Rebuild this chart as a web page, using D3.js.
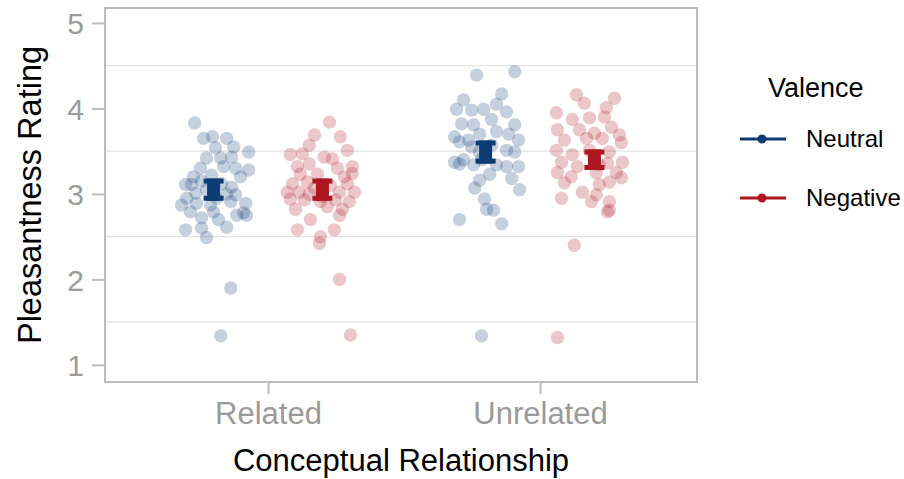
<!DOCTYPE html>
<html>
<head>
<meta charset="utf-8">
<script src="https://cdn.jsdelivr.net/npm/d3@7"></script>
<style>
  body { margin: 0; background: #fff; }
  svg { font-family: "Liberation Sans", Arial, sans-serif; }
</style>
</head>
<body>
<div id="chart"></div>
<script>
// categories and groups
const categories = ["Related", "Unrelated"];
const valences = ["Neutral", "Negative"];
const yTicks = [1, 2, 3, 4, 5];
const gridLevels = [1.5, 2.5, 3.5, 4.5];

// group means and standard errors (Related, Unrelated)
const meanNeutral = [3.05, 3.49];
const meanNegative = [3.05, 3.40];
const seNeutral = [0.13, 0.135];
const seNegative = [0.13, 0.12];

// individual ratings, with jitter offsets (category units)
const relatedNeutral = [3.83, 3.65, 3.67, 3.65, 3.54, 3.55, 3.49, 3.42, 3.42, 3.43, 3.30, 3.32, 3.30, 3.28,
  3.20, 3.22, 3.20, 3.11, 3.11, 3.08, 3.01, 2.99, 2.95, 2.89, 2.91, 2.87, 2.87, 2.89, 2.79, 2.79, 2.78,
  2.72, 2.75, 2.75, 2.70, 2.58, 2.60, 2.61, 2.49, 1.90, 1.34, 3.05, 3.12, 2.95, 3.15, 3.00];
const relatedNeutralJit = [-0.070, -0.037, -0.004, 0.048, 0.007, 0.074, 0.129, -0.026, 0.026, 0.066, -0.048, 0.037, 0.081, 0.129,
  -0.074, -0.007, 0.099, -0.103, -0.081, 0.066, -0.066, 0.081, -0.099, -0.063, 0.063, -0.118, -0.011, 0.118, -0.085, 0, 0.110,
  -0.044, 0.085, 0.121, 0.018, -0.103, -0.044, 0.048, -0.026, 0.063, 0.026, -0.026, 0.029, 0.011, -0.044, 0.048];

const relatedNegative = [3.84, 3.69, 3.67, 3.57, 3.51, 3.46, 3.47, 3.43, 3.41, 3.35, 3.32, 3.32, 3.30, 3.24,
  3.23, 3.23, 3.20, 3.12, 3.14, 3.12, 3.02, 3.02, 3.00, 3.02, 3.02, 2.94, 2.93, 2.91, 2.93, 2.91, 2.82,
  2.85, 2.82, 2.70, 2.75, 2.58, 2.50, 2.58, 2.42, 2.00, 1.35, 3.07, 3.10, 2.97];
const relatedNegativeJit = [0.026, -0.029, 0.066, -0.048, 0.092, -0.118, -0.074, 0.007, 0.037, -0.048, 0.110, -0.092, 0.055, 0.110,
  -0.081, -0.018, 0.081, -0.110, -0.055, 0.092, -0.129, -0.085, -0.048, 0.063, 0.118, -0.118, -0.066, -0.007, 0.048, 0.099, -0.099,
  0.018, 0.074, -0.044, 0.063, -0.092, -0.007, 0.044, -0.011, 0.063, 0.103, -0.029, 0.029, 0];

const unrelatedNeutral = [4.39, 4.43, 4.17, 4.10, 4.05, 3.99, 3.98, 3.99, 3.96, 3.82, 3.81, 3.87, 3.81, 3.67,
  3.63, 3.70, 3.73, 3.70, 3.63, 3.61, 3.55, 3.51, 3.49, 3.37, 3.40, 3.34, 3.34, 3.32, 3.32, 3.35, 3.23,
  3.18, 3.16, 3.07, 3.05, 2.94, 2.82, 2.81, 2.70, 2.65, 1.34, 3.49, 3.57, 3.40];
const unrelatedNeutralJit = [-0.033, 0.107, 0.059, -0.081, 0.040, -0.107, -0.051, -0.007, 0.077, -0.088, -0.044, 0.022, 0.107, -0.114,
  -0.063, -0.022, 0.040, 0.085, 0.121, -0.096, -0.051, 0.077, 0.107, -0.114, -0.081, -0.044, 0.040, 0.077, 0.121, -0.096, 0.015,
  0.096, -0.022, -0.040, 0.125, -0.004, 0.004, 0.029, -0.096, 0.059, -0.015, -0.022, 0.022, -0.015];

const unrelatedNegative = [4.16, 4.12, 4.06, 3.95, 4.01, 3.87, 3.89, 3.90, 3.78, 3.75, 3.75, 3.71, 3.69, 3.63,
  3.65, 3.65, 3.60, 3.51, 3.46, 3.49, 3.37, 3.37, 3.32, 3.36, 3.25, 3.25, 3.20, 3.25, 3.13, 3.14, 3.02,
  3.11, 3.19, 2.99, 2.95, 2.91, 2.91, 2.81, 2.79, 2.40, 1.32, 3.51, 3.34];
const unrelatedNegativeJit = [-0.066, 0.074, -0.037, -0.140, 0.044, -0.081, -0.018, 0.037, 0.063, -0.136, -0.055, 0, 0.092, -0.110,
  -0.029, 0.029, 0.099, -0.140, -0.081, 0.055, 0.103, -0.121, -0.063, 0.048, -0.136, 0.081, -0.085, 0.007, -0.110, 0.055, -0.044,
  0.018, 0.099, 0.007, -0.121, 0.055, -0.011, 0.055, 0.048, -0.074, -0.136, -0.018, 0.018];

const colors = { Neutral: "#0d3b74", Negative: "#ad1520" };

const width = 904, height = 479;
const panel = { left: 105, right: 697, top: 8, bottom: 382 };
const dodge = 0.2;

const svg = d3.select("#chart").append("svg")
  .attr("width", width)
  .attr("height", height);

const x = d3.scalePoint().domain(categories).range([268, 540]);
const step = x.step();
const y = d3.scaleLinear().domain([0.8, 5.175]).range([panel.bottom, panel.top]);

// grid
svg.append("g").selectAll("line")
  .data(gridLevels)
  .join("line")
  .attr("x1", panel.left).attr("x2", panel.right)
  .attr("y1", d => y(d)).attr("y2", d => y(d))
  .style("stroke", "#e3e3e3")
  .style("stroke-width", 1.3);

// build point table
const groups = [
  { cat: "Related", val: "Neutral", vals: relatedNeutral, jit: relatedNeutralJit },
  { cat: "Related", val: "Negative", vals: relatedNegative, jit: relatedNegativeJit },
  { cat: "Unrelated", val: "Neutral", vals: unrelatedNeutral, jit: unrelatedNeutralJit },
  { cat: "Unrelated", val: "Negative", vals: unrelatedNegative, jit: unrelatedNegativeJit }
];
const points = [];
groups.forEach(g => {
  g.vals.forEach((v, i) => points.push({ cat: g.cat, val: g.val, v: v, j: g.jit[i] }));
});
const xPos = (cat, val, j) => x(cat) + ((val === "Neutral" ? -dodge : dodge) + (j || 0)) * step;

svg.append("g").selectAll("circle")
  .data(points)
  .join("circle")
  .attr("cx", d => xPos(d.cat, d.val, d.j))
  .attr("cy", d => y(d.v))
  .attr("r", 6.7)
  .style("fill", d => colors[d.val])
  .style("fill-opacity", 0.24);

// error bars
const summary = [];
categories.forEach((c, i) => {
  summary.push({ cat: c, val: "Neutral", m: meanNeutral[i], se: seNeutral[i] });
  summary.push({ cat: c, val: "Negative", m: meanNegative[i], se: seNegative[i] });
});
const eb = svg.append("g").selectAll("g")
  .data(summary)
  .join("g")
  .style("fill", d => colors[d.val]);
eb.append("rect")
  .attr("x", d => xPos(d.cat, d.val) - 10)
  .attr("y", d => y(d.m + d.se))
  .attr("width", 20)
  .attr("height", 5);
eb.append("rect")
  .attr("x", d => xPos(d.cat, d.val) - 10)
  .attr("y", d => y(d.m - d.se) - 5)
  .attr("width", 20)
  .attr("height", 5);
eb.append("rect")
  .attr("x", d => xPos(d.cat, d.val) - 6.5)
  .attr("y", d => y(d.m + d.se))
  .attr("width", 13)
  .attr("height", d => y(d.m - d.se) - y(d.m + d.se));

// panel border
svg.append("rect")
  .attr("x", panel.left).attr("y", panel.top)
  .attr("width", panel.right - panel.left)
  .attr("height", panel.bottom - panel.top)
  .style("fill", "none")
  .style("stroke", "#bdbdbd")
  .style("stroke-width", 2);

// y axis
const yAxis = svg.append("g")
  .attr("transform", `translate(${panel.left - 1},0)`)
  .call(d3.axisLeft(y).tickValues(yTicks).tickSize(12).tickPadding(8).tickFormat(d3.format("d")));
yAxis.select(".domain").remove();
yAxis.selectAll("line").style("stroke", "#bdbdbd").style("stroke-width", 2);
yAxis.selectAll("text").style("fill", "#9a9a9a").style("font-size", "30px").attr("dy", "0.36em");

// x axis
const xAxis = svg.append("g")
  .attr("transform", `translate(0,${panel.bottom + 1})`)
  .call(d3.axisBottom(x).tickSize(11).tickPadding(8));
xAxis.select(".domain").remove();
xAxis.selectAll("line").style("stroke", "#bdbdbd").style("stroke-width", 2);
xAxis.selectAll("text").style("fill", "#9a9a9a").style("font-size", "31px").attr("dy", "0.72em");

// titles
svg.append("text")
  .text("Conceptual Relationship")
  .attr("x", (panel.left + panel.right) / 2)
  .attr("y", 471)
  .attr("text-anchor", "middle")
  .style("font-size", "31px")
  .style("fill", "black");
svg.append("text")
  .text("Pleasantness Rating")
  .attr("transform", `translate(41,${(panel.top + panel.bottom) / 2}) rotate(-90)`)
  .attr("text-anchor", "middle")
  .style("font-size", "32.5px")
  .style("fill", "black");

// legend
const legend = svg.append("g").attr("id", "legend");
legend.append("text")
  .text("Valence")
  .attr("x", 768).attr("y", 97)
  .style("font-size", "27px")
  .style("fill", "black");
valences.forEach((v, i) => {
  const ly = 139 + i * 59;
  legend.append("line")
    .attr("x1", 740).attr("x2", 786)
    .attr("y1", ly).attr("y2", ly)
    .style("stroke", colors[v])
    .style("stroke-width", 3);
  legend.append("circle")
    .attr("cx", 762).attr("cy", ly).attr("r", 4.5)
    .style("fill", colors[v]);
  legend.append("text")
    .text(v)
    .attr("x", 806).attr("y", ly + 8)
    .style("font-size", "24px")
    .style("fill", "black");
});
</script>
</body>
</html>
